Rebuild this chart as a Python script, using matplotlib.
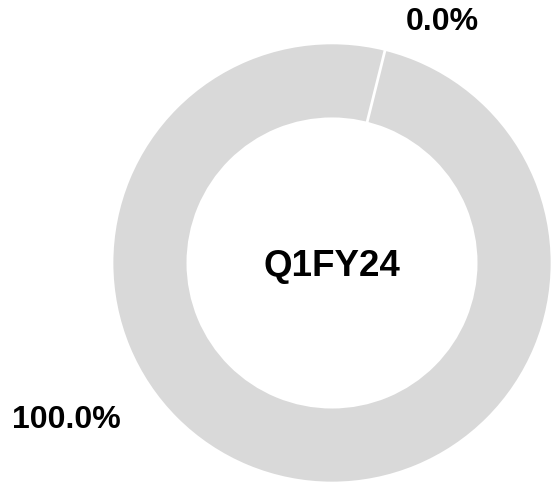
import matplotlib
matplotlib.use("Agg")
import matplotlib.pyplot as plt

# data
period = "Q1FY24"
shares = [0.0, 100.0]
slice_colors = ["#d9d9d9", "#d9d9d9"]

plt.rcParams['font.family'] = ['Liberation Sans', 'DejaVu Sans']

fig = plt.figure(figsize=(5.54, 4.87), dpi=100)
ax = fig.add_axes([0, 0, 1, 1])

wedges, _ = ax.pie(shares, colors=slice_colors, startangle=76, radius=1.0,
                   wedgeprops=dict(width=0.345, edgecolor='white', linewidth=2.0))
# the empty slice is only a white border line, keep it above the full ring
wedges[0].set_zorder(5)

ax.set_aspect('auto')
ax.set_xlim(-1.509, 1.009)
ax.set_ylim(-1.018, 1.195)
ax.axis('off')

# labels placed like the original
label_pos = [(0.50, 1.095), (-1.209, -0.714)]
for v, (x, y) in zip(shares, label_pos):
    ax.text(x, y, f"{v:.1f}%", ha='center', va='center',
            fontsize=23, fontweight='bold', color='black')

ax.text(0, -0.018, period, ha='center', va='center',
        fontsize=26.5, fontweight='bold', color='black')

fig.savefig("out.png", dpi=100, facecolor='white')
